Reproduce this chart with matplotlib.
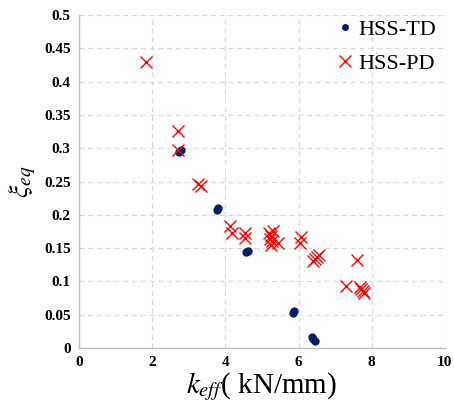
import matplotlib
matplotlib.use("Agg")
import matplotlib.pyplot as plt

plt.rcParams["font.family"] = ["Liberation Serif", "DejaVu Serif"]
plt.rcParams["mathtext.fontset"] = "stix"

NAVY = "#002060"
RED = "#ff0000"
GRID = "#d9d9d9"

# HSS-TD points (k_eff in kN/mm, equivalent damping ratio)
td_k  = [2.74, 2.78, 3.76, 3.80, 4.56, 4.63, 5.84, 5.88, 6.36, 6.40, 6.45]
td_xi = [0.294, 0.297, 0.208, 0.210, 0.144, 0.146, 0.052, 0.055, 0.016, 0.013, 0.010]

# HSS-PD points
pd_k  = [1.83, 2.71, 2.71, 3.24, 3.33, 4.13, 4.17, 4.55, 4.54,
         5.20, 5.25, 5.22, 5.27, 5.24, 5.30, 5.45, 6.06, 6.04,
         6.40, 6.45, 6.50, 6.56, 7.59, 7.31, 7.68, 7.72, 7.76, 7.80]
pd_xi = [0.430, 0.326, 0.298, 0.246, 0.243, 0.183, 0.173, 0.172, 0.165,
         0.172, 0.168, 0.163, 0.160, 0.155, 0.175, 0.157, 0.166, 0.158,
         0.131, 0.133, 0.136, 0.140, 0.132, 0.093, 0.091, 0.088, 0.086, 0.083]

x_ticks = [0, 2, 4, 6, 8, 10]
y_ticks = [0, 0.05, 0.1, 0.15, 0.2, 0.25, 0.3, 0.35, 0.4, 0.45, 0.5]
y_tick_labels = ["0", "0.05", "0.1", "0.15", "0.2", "0.25", "0.3", "0.35", "0.4", "0.45", "0.5"]

fig = plt.figure(figsize=(4.54, 4.08), dpi=100)
ax = fig.add_axes([0.174, 0.147, 0.806, 0.816])

ax.plot(td_k, td_xi, ls="none", marker="o", ms=5, color=NAVY, label="HSS-TD", zorder=3)
ax.plot(pd_k, pd_xi, ls="none", marker="x", ms=8, mew=1.0, color=RED, label="HSS-PD", zorder=4)

ax.set_xlim(0, 10)
ax.set_ylim(0, 0.5)
ax.set_xticks(x_ticks)
ax.set_yticks(y_ticks)
ax.set_yticklabels(y_tick_labels)
for lbl in ax.get_xticklabels() + ax.get_yticklabels():
    lbl.set_fontweight("bold")
    lbl.set_fontsize(11)
ax.tick_params(length=0, pad=6)

ax.grid(True, color=GRID, ls=(0, (4, 3)), lw=0.9)
ax.set_axisbelow(True)
for side in ("top", "right"):
    ax.spines[side].set_visible(False)
for side in ("left", "bottom"):
    ax.spines[side].set_color("#bfbfbf")
    ax.spines[side].set_linewidth(1.0)

ax.set_xlabel(r"$k_{eff}$( kN/mm)", fontsize=21, labelpad=1)
ax.set_ylabel(r"$\xi_{eq}$", fontsize=20, labelpad=4)

leg = ax.legend(loc="upper right", frameon=False, fontsize=16, handletextpad=0.1,
                labelspacing=0.6, borderaxespad=0.0, handlelength=1.0,
                bbox_to_anchor=(1.0, 1.013))
leg.legend_handles[0].set_markersize(4)

fig.savefig("out.png", dpi=100)
